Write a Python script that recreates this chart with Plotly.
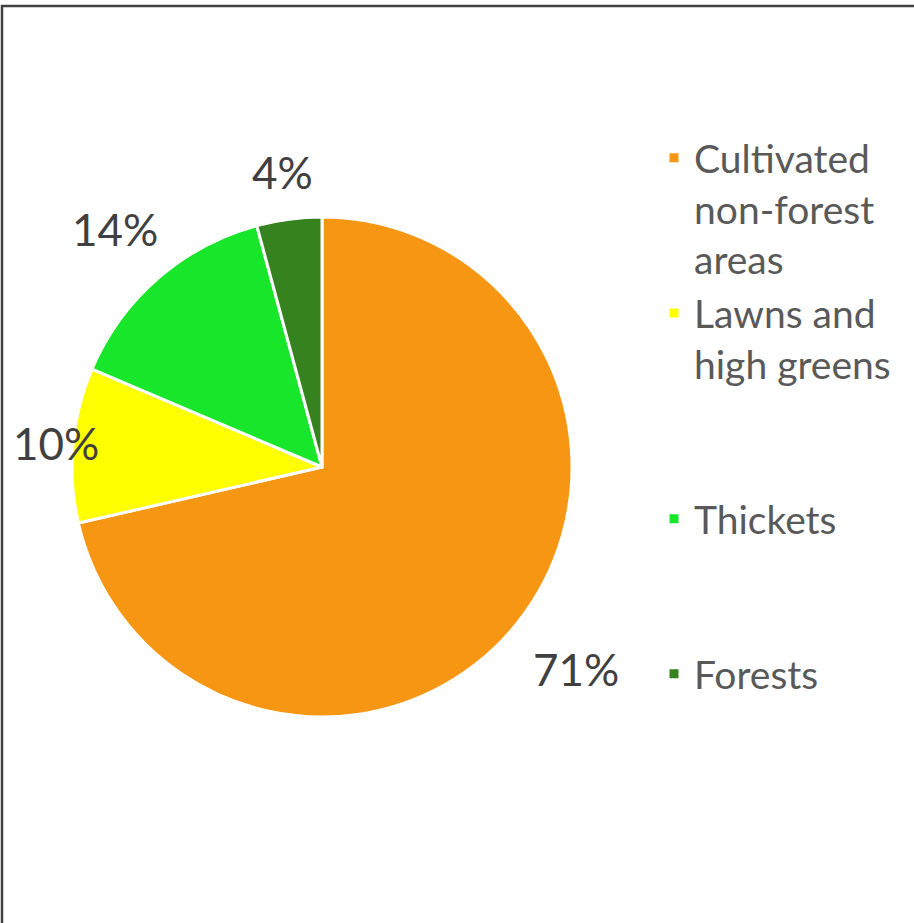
import math
import plotly.graph_objects as go

# ---- data ----
categories = ["Cultivated<br>non-forest<br>areas", "Lawns and<br>high greens<br> <br> ", "Thickets<br> <br> ", "Forests"]
shares = [71.4, 10.0, 14.4, 4.2]
colors = ["#F79612", "#FFFF00", "#17E62B", "#35821E"]

# ---- layout constants ----
W, H = 914, 923
cx_px, cy_px, r_px = 322, 467, 250
label_r = [1.30, 1.07, 1.26, 1.19]

dom_x = [(cx_px - r_px) / W, (cx_px + r_px) / W]
dom_y = [(H - cy_px - r_px) / H, (H - cy_px + r_px) / H]

fig = go.Figure()
fig.add_trace(go.Pie(
    labels=categories,
    values=shares,
    sort=False,
    direction="clockwise",
    rotation=0,
    marker=dict(colors=colors, line=dict(color="white", width=3)),
    textinfo="none",
    hoverinfo="label+percent",
    domain=dict(x=dom_x, y=dom_y),
    showlegend=True,
))

# percentage labels computed from the data
total = sum(shares)
cum = 0.0
annotations = []
for v, f in zip(shares, label_r):
    mid = (cum + v / 2) / total * 2 * math.pi
    cum += v
    px = cx_px + r_px * f * math.sin(mid)
    py = cy_px - r_px * f * math.cos(mid)
    annotations.append(dict(
        x=px / W, y=1 - py / H, xref="paper", yref="paper",
        text=f"{round(v / total * 100)}%", showarrow=False,
        xanchor="center", yanchor="middle",
        font=dict(family="Lato", size=44, color="#404040"),
    ))

fig.update_layout(
    width=W, height=H,
    margin=dict(l=0, r=0, t=0, b=0),
    paper_bgcolor="white",
    plot_bgcolor="white",
    font=dict(family="Lato", color="#595959"),
    legend=dict(
        x=654 / W, y=1 - 126 / H, xanchor="left", yanchor="top",
        font=dict(family="Lato", size=39, color="#595959"),
        valign="top",
        traceorder="normal",
        bgcolor="rgba(0,0,0,0)",
    ),
    annotations=annotations,
    shapes=[dict(
        type="rect", xref="paper", yref="paper",
        x0=2 / W, x1=1.05, y0=-0.05, y1=1 - 6 / H,
        line=dict(color="#404040", width=2.5),
        fillcolor="rgba(0,0,0,0)",
    )],
)

fig.write_html("out.html", config={"displayModeBar": False},
               post_script="document.body.style.margin='0';")
